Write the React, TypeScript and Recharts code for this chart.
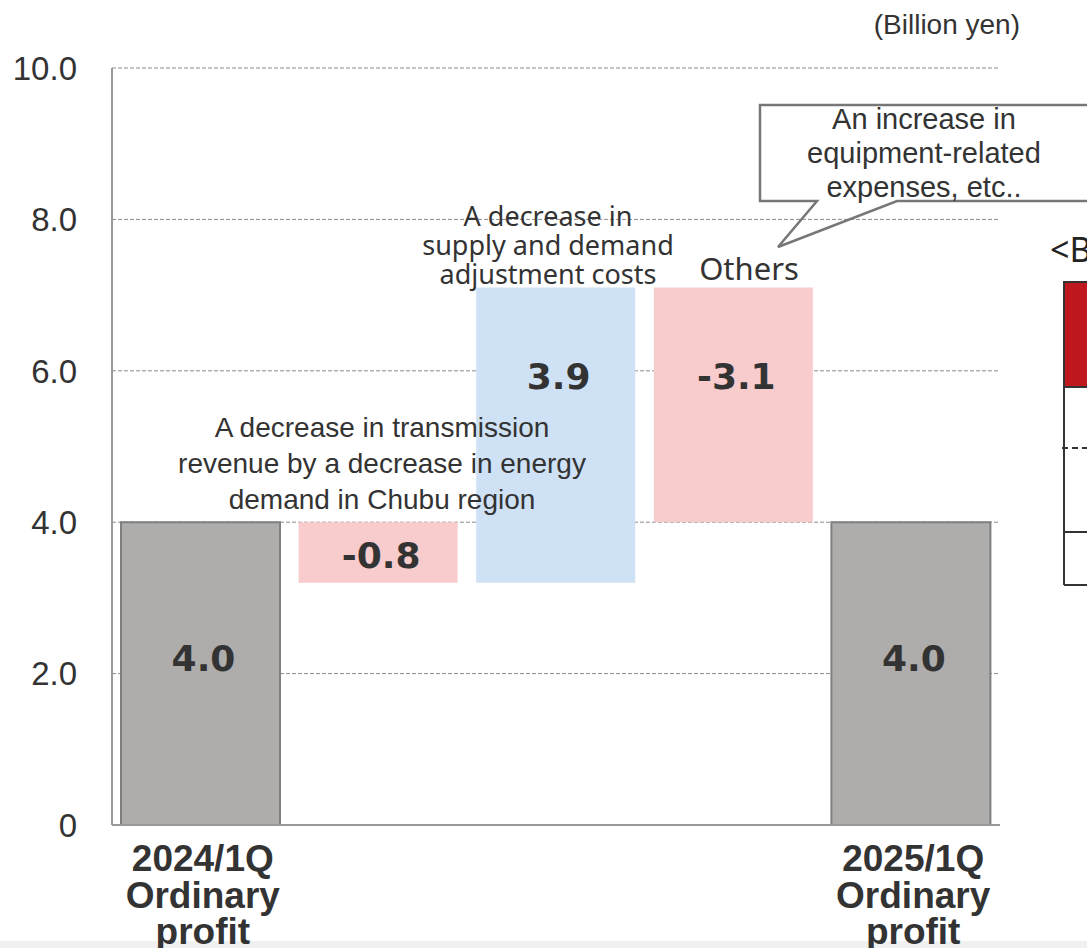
import React from "react"
import { Bar, BarChart, CartesianGrid, Cell, LabelList, XAxis, YAxis } from "recharts"

// waterfall steps (billion yen)
const categories = ["2024/1Q", "Transmission revenue", "Supply and demand adjustment", "Others", "2025/1Q"]
const changes = [4.0, -0.8, 3.9, -3.1, 4.0]
const kinds = ["total", "down", "up", "down", "total"]
const tickLines = [["2024/1Q", "Ordinary", "profit"], [], [], [], ["2025/1Q", "Ordinary", "profit"]]
const yTicks = [0, 2, 4, 6, 8, 10]

const colors: Record<string, string> = { total: "#aeadac", down: "#f8cbcc", up: "#cfe1f5" }
// vertical nudge of the value labels from bar centre
const labelDy = [-16, 3, -59, -29, -16]

const buildRows = () => {
  let running = 0
  return categories.map((name, i) => {
    const v = changes[i]
    let base = 0
    let delta = v
    if (kinds[i] === "total") {
      running = v
    } else {
      const next = running + v
      base = Math.min(running, next)
      delta = Math.abs(v)
      running = next
    }
    return { name, base, delta, label: v.toFixed(1) }
  })
}

const rows = buildRows()

const XTick = (props: any) => {
  const { x, y, payload } = props
  const lines = tickLines[payload.index] || []
  return (
    <g>
      {lines.map((t, i) => (
        <text
          key={i}
          x={x + 2}
          y={y + 44 + i * 36.5}
          textAnchor="middle"
          fontFamily="Liberation Sans, Arial, sans-serif"
          fontWeight="bold"
          fontSize={37}
          fill="#333"
        >
          {t}
        </text>
      ))}
    </g>
  )
}

const ValueLabel = (props: any) => {
  const { x, y, width, height, value, index } = props
  return (
    <text
      x={x + width / 2 + 3}
      y={y + height / 2 + labelDy[index]}
      dy="0.36em"
      textAnchor="middle"
      fontFamily="DejaVu Sans, sans-serif"
      fontWeight="bold"
      fontSize={36}
      fill="#333"
    >
      {value}
    </text>
  )
}

const arial = "Liberation Sans, Arial, sans-serif"
const noto = "Noto Sans, sans-serif"

export default function App() {
  return (
    <div style={{ position: "absolute", left: 0, top: 0, width: 1087, height: 948, background: "#fff", overflow: "hidden" }}>
      <div style={{ position: "absolute", left: 0, top: 941, width: 1087, height: 7, background: "#f0f0f0" }} />
      <div style={{ position: "absolute", left: 0, top: 0 }}>
        <BarChart width={1087} height={948} data={rows} margin={{ top: 68, right: 87, left: 0, bottom: 0 }} barSize={159}>
          <CartesianGrid vertical={false} stroke="#8c8c8c" strokeDasharray="4 2" />
          <XAxis
            dataKey="name"
            height={123}
            tickLine={false}
            tickSize={0}
            axisLine={{ stroke: "#999", strokeWidth: 2 }}
            tick={<XTick />}
            interval={0}
          />
          <YAxis
            width={112}
            domain={[0, 10]}
            ticks={yTicks}
            tickLine={false}
            tickSize={0}
            tickMargin={35}
            axisLine={{ stroke: "#999", strokeWidth: 2 }}
            tick={{ fontFamily: arial, fontSize: 33, fill: "#333" }}
            tickFormatter={(v) => (v === 0 ? "0" : v.toFixed(1))}
          />
          <Bar dataKey="base" stackId="w" fill="transparent" isAnimationActive={false} />
          <Bar dataKey="delta" stackId="w" isAnimationActive={false}>
            {rows.map((r, i) => (
              <Cell
                key={r.name}
                fill={colors[kinds[i]]}
                stroke={kinds[i] === "total" ? "#7f7f7f" : "none"}
                strokeWidth={kinds[i] === "total" ? 2 : 0}
              />
            ))}
            <LabelList dataKey="label" content={<ValueLabel />} />
          </Bar>
        </BarChart>
      </div>
      <svg width={1087} height={948} style={{ position: "absolute", left: 0, top: 0, pointerEvents: "none" }}>
        <text x={1020} y={34} textAnchor="end" fontFamily={arial} fontSize={28} fill="#333">
          (Billion yen)
        </text>

        <g fontFamily={arial} fontSize={28} fill="#333" textAnchor="middle">
          <text x={382} y={437}>A decrease in transmission</text>
          <text x={382} y={473}>revenue by a decrease in energy</text>
          <text x={382} y={509}>demand in Chubu region</text>
        </g>

        <g fontFamily={noto} fontSize={27} fill="#333" textAnchor="middle">
          <text x={548} y={226}>A decrease in</text>
          <text x={548} y={255}>supply and demand</text>
          <text x={548} y={284}>adjustment costs</text>
        </g>
        <text x={749} y={280} textAnchor="middle" fontFamily={noto} fontSize={31} fill="#333">
          Others
        </text>

        <path
          d="M760,105 L1095,105 L1095,201 L897,201 L778,247 L817,201 L760,201 Z"
          fill="none"
          stroke="#777"
          strokeWidth={2.5}
        />
        <g fontFamily={arial} fontSize={29} fill="#333" textAnchor="middle">
          <text x={924} y={129}>An increase in</text>
          <text x={924} y={163}>equipment-related</text>
          <text x={924} y={197}>expenses, etc..</text>
        </g>

        <text x={1050} y={262} fontFamily={noto} fontSize={34} fill="#222">
          {"<Breakdown>"}
        </text>
        <rect x={1064} y={282} width={40} height={105} fill="#c0181f" stroke="#333" strokeWidth={2} />
        <g stroke="#333" strokeWidth={2}>
          <line x1={1064} y1={387} x2={1064} y2={585} />
          <line x1={1064} y1={387} x2={1090} y2={387} />
          <line x1={1062} y1={448} x2={1090} y2={448} strokeDasharray="6 4" />
          <line x1={1064} y1={532} x2={1090} y2={532} />
          <line x1={1064} y1={585} x2={1090} y2={585} />
        </g>
      </svg>
    </div>
  )
}
